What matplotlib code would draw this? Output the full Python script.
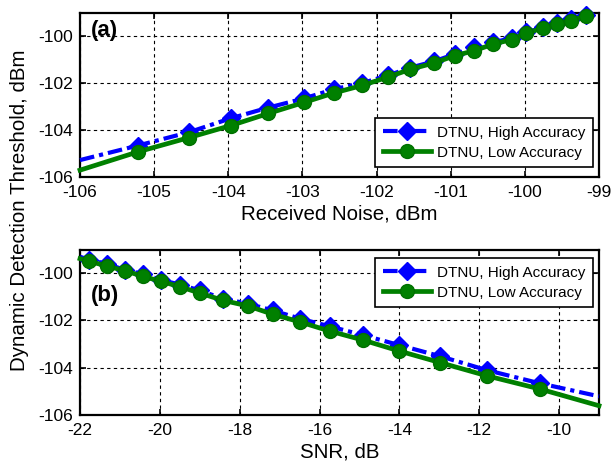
import matplotlib
matplotlib.use("Agg")
import matplotlib.pyplot as plt

plt.rcParams['font.family'] = ['Liberation Sans', 'DejaVu Sans']
plt.rcParams['axes.unicode_minus'] = False

# (a) threshold vs received noise; first entry is where the lines start at the left edge
noise = [-106, -105.22, -104.53, -103.97, -103.46, -102.98, -102.58, -102.19, -101.84,
         -101.55, -101.22, -100.94, -100.68, -100.43, -100.18, -99.98, -99.76,
         -99.57, -99.38, -99.18]
thr_hi_a = [-105.29, -104.67, -104.10, -103.51, -103.05, -102.66, -102.27, -102.00, -101.67,
            -101.35, -101.07, -100.76, -100.48, -100.27, -100.08, -99.84, -99.63,
            -99.42, -99.28, -99.10]
thr_lo_a = [-105.72, -104.94, -104.33, -103.82, -103.30, -102.83, -102.43, -102.10, -101.74,
            -101.42, -101.14, -100.83, -100.62, -100.34, -100.15, -99.87, -99.66,
            -99.49, -99.34, -99.14]

# (b) threshold vs SNR; first/last entries are the line ends at the axes edges
snr = [-22, -21.77, -21.32, -20.88, -20.43, -19.98, -19.50, -19.00, -18.42, -17.79,
       -17.17, -16.48, -15.75, -14.90, -14.00, -12.98, -11.81, -10.48, -9]
thr_hi_b = [-99.30, -99.43, -99.60, -99.86, -100.03, -100.28, -100.48, -100.73, -101.08, -101.29,
            -101.58, -101.93, -102.25, -102.63, -103.05, -103.52, -104.11, -104.67, -105.22]
thr_lo_b = [-99.38, -99.49, -99.70, -99.89, -100.13, -100.34, -100.57, -100.84, -101.15, -101.39,
            -101.74, -102.07, -102.45, -102.84, -103.30, -103.79, -104.35, -104.91, -105.62]

lab_hi = 'DTNU, High Accuracy'
lab_lo = 'DTNU, Low Accuracy'
blue = '#0000FF'
green = '#008000'

fig = plt.figure(figsize=(6.16, 4.68), dpi=100)
ax1 = fig.add_axes([0.1299, 0.6224, 0.8425, 0.3504])
ax2 = fig.add_axes([0.1299, 0.1139, 0.8425, 0.3526])


def draw(ax, x, yh, yl, mk, legloc, legy):
    ax.plot(x, yh, color=blue, ls=(0, (3.5, 1.2, 1.0, 1.2)), lw=3, marker='D', ms=9,
            markevery=mk, mfc=blue, mec=blue, mew=1, label=lab_hi, clip_on=False, zorder=3)
    ax.plot(x, yl, color=green, ls='-', lw=3.4, marker='o', ms=10, markevery=mk,
            mfc=green, mec='#007000', mew=1, label=lab_lo, clip_on=False, zorder=4)
    ax.set_ylim(-106, -99)
    ax.set_yticks([-106, -104, -102, -100])
    ax.grid(True, color='black', ls=(0, (3, 3)), lw=0.8)
    ax.tick_params(direction='in', top=True, right=True, labelsize=12.5, length=4, width=1.2)
    ax.tick_params(axis='x', pad=6)
    ax.tick_params(axis='y', pad=5)
    for s in ax.spines.values():
        s.set_linewidth(1.6)
    leg = ax.legend(loc=legloc, bbox_to_anchor=(0.988, legy), borderaxespad=0, fontsize=11,
                    handlelength=3.2, fancybox=False, edgecolor='black', framealpha=1,
                    borderpad=0.5, labelspacing=0.4, handletextpad=0.35)
    leg.get_frame().set_linewidth(1.2)


draw(ax1, noise, thr_hi_a, thr_lo_a, list(range(1, len(noise))), 'lower right', 0.057)
ax1.set_xlim(-106, -99)
ax1.set_xticks(range(-106, -98))
ax1.set_xlabel('Received Noise, dBm', fontsize=14.8, labelpad=3)
ax1.text(0.021, 0.89, '(a)', transform=ax1.transAxes, fontsize=16, fontweight='bold',
         va='center', ha='left')

draw(ax2, snr, thr_hi_b, thr_lo_b, list(range(1, len(snr) - 1)), 'upper right', 0.95)
ax2.set_xlim(-22, -9)
ax2.set_xticks([-22, -20, -18, -16, -14, -12, -10])
ax2.set_xlabel('SNR, dB', fontsize=14.8, labelpad=3)
ax2.text(0.021, 0.72, '(b)', transform=ax2.transAxes, fontsize=16, fontweight='bold',
         va='center', ha='left')

fig.text(0.032, 0.55, 'Dynamic Detection Threshold, dBm', rotation=90, fontsize=14.8,
         ha='center', va='center')

fig.savefig('out.png', dpi=100)
